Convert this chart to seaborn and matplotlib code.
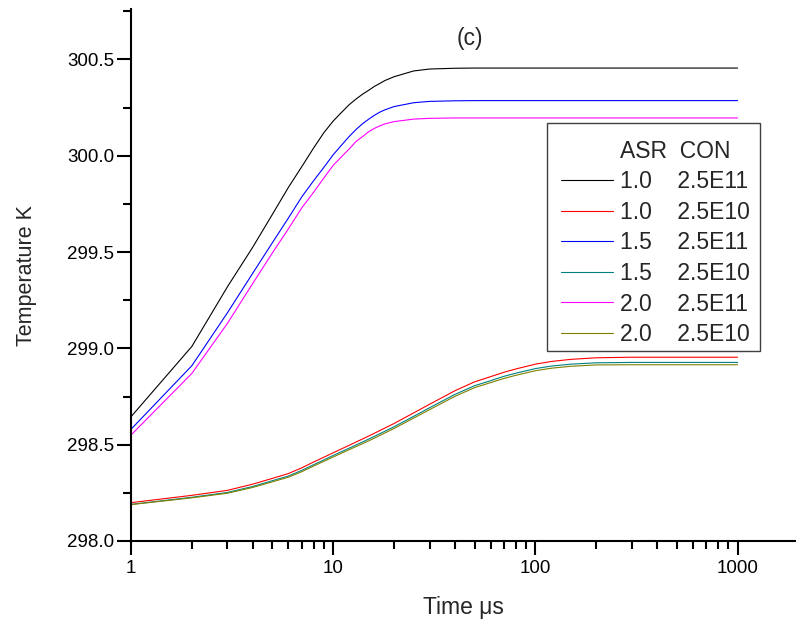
import numpy as np
import pandas as pd
import matplotlib
matplotlib.use("Agg")
import matplotlib.pyplot as plt
import seaborn as sns
from matplotlib.lines import Line2D
from matplotlib.patches import Rectangle
from matplotlib.ticker import LogLocator, MultipleLocator, FuncFormatter, NullFormatter

# ---- data ----
# series with CON = 2.5E11 (fast rise)
time_fast = [1, 2, 3, 4, 5, 6, 7, 8, 9, 10, 11, 12, 13, 14, 15, 16, 17, 18, 20, 25, 30, 40,
             50, 100, 1000]
asr10_con11 = [298.645, 299.010, 299.320, 299.525, 299.695, 299.835, 299.944, 300.040, 300.120,
               300.180, 300.225, 300.265, 300.295, 300.320, 300.340, 300.360, 300.375, 300.390,
               300.410, 300.440, 300.450, 300.454, 300.455, 300.455, 300.455]
asr15_con11 = [298.580, 298.910, 299.185, 299.390, 299.548, 299.676, 299.787, 299.870, 299.940,
               300.005, 300.055, 300.100, 300.137, 300.167, 300.190, 300.210, 300.226, 300.238,
               300.255, 300.275, 300.282, 300.285, 300.286, 300.286, 300.286]
asr20_con11 = [298.550, 298.870, 299.130, 299.337, 299.495, 299.620, 299.730, 299.810, 299.885,
               299.950, 299.995, 300.035, 300.075, 300.100, 300.125, 300.142, 300.155, 300.165,
               300.177, 300.190, 300.194, 300.196, 300.196, 300.196, 300.196]

# series with CON = 2.5E10 (slow rise)
time_slow = [1, 2, 3, 4, 5, 6, 7, 8, 9, 10, 12, 15, 20, 25, 30, 40, 50, 60, 70, 80, 100, 120,
             150, 200, 300, 500, 1000]
asr10_con10 = [298.199, 298.237, 298.263, 298.295, 298.325, 298.350, 298.380, 298.410, 298.435,
               298.458, 298.497, 298.545, 298.610, 298.665, 298.710, 298.780, 298.826, 298.853,
               298.876, 298.893, 298.918, 298.932, 298.943, 298.951, 298.954, 298.954, 298.954]
asr15_con10 = [298.190, 298.227, 298.252, 298.283, 298.313, 298.337, 298.367, 298.396, 298.421,
               298.444, 298.482, 298.529, 298.593, 298.647, 298.692, 298.761, 298.806, 298.832,
               298.855, 298.871, 298.895, 298.908, 298.918, 298.925, 298.927, 298.927, 298.927]
asr20_con10 = [298.189, 298.224, 298.248, 298.278, 298.307, 298.331, 298.360, 298.389, 298.414,
               298.436, 298.474, 298.520, 298.584, 298.638, 298.682, 298.751, 298.796, 298.822,
               298.844, 298.860, 298.884, 298.897, 298.907, 298.914, 298.915, 298.915, 298.915]

series_names = ["1.0    2.5E11", "1.0    2.5E10", "1.5    2.5E11",
                "1.5    2.5E10", "2.0    2.5E11", "2.0    2.5E10"]
series_values = [asr10_con11, asr10_con10, asr15_con11, asr15_con10, asr20_con11, asr20_con10]
series_times = [time_fast, time_slow, time_fast, time_slow, time_fast, time_slow]
series_colors = ["#000000", "#ff0000", "#0000ff", "#008080", "#ff00ff", "#808000"]
legend_header = "ASR  CON"

df = pd.concat([pd.DataFrame({"time": t, "temp": v, "series": n})
                for n, t, v in zip(series_names, series_times, series_values)],
               ignore_index=True)

# ---- style ----
sns.set_style("ticks")
plt.rcParams["font.family"] = ["Liberation Sans", "DejaVu Sans"]

W, H = 796, 627
fig = plt.figure(figsize=(W / 100, H / 100), dpi=100)
ax = fig.add_axes([131 / W, 86 / H, 665 / W, 531.7 / H])

sns.lineplot(data=df, x="time", y="temp", hue="series", hue_order=series_names,
             palette=dict(zip(series_names, series_colors)), linewidth=0.8,
             legend=False, ax=ax, sort=False)

ax.set_xscale("log")
ax.set_xlim(1, 1945)
ax.set_ylim(298.0, 300.76)

ax.xaxis.set_major_locator(LogLocator(base=10, numticks=10))
ax.xaxis.set_minor_locator(LogLocator(base=10, subs=np.arange(2, 10), numticks=50))
ax.xaxis.set_major_formatter(FuncFormatter(lambda v, p: f"{v:g}"))
ax.xaxis.set_minor_formatter(NullFormatter())
ax.yaxis.set_major_locator(MultipleLocator(0.5))
ax.yaxis.set_minor_locator(MultipleLocator(0.25))
ax.yaxis.set_major_formatter(FuncFormatter(lambda v, p: f"{v:.1f}"))

for s in ["top", "right"]:
    ax.spines[s].set_visible(False)
for s in ["left", "bottom"]:
    ax.spines[s].set_linewidth(1.5)
    ax.spines[s].set_color("black")

ax.tick_params(which="major", direction="out", length=10, width=1.5, labelsize=13.5,
               colors="black")
ax.tick_params(which="minor", direction="out", length=5.5, width=1.5, colors="black")
ax.tick_params(axis="y", which="major", pad=2)
ax.tick_params(axis="x", which="major", pad=4)

ax.set_xlabel("Time μs", fontsize=16.5, labelpad=13.5)
ax.set_ylabel("Temperature K", fontsize=15.5, labelpad=22)

fig.text(470 / W, 1 - 38 / H, "(c)", ha="center", va="center", fontsize=16.5)

# legend frame (opaque box) and legend entries
ax.add_patch(Rectangle((547 / W, 1 - 351 / H), 213 / W, 228 / H, transform=fig.transFigure,
                       facecolor="white", edgecolor="#404040", linewidth=1.0,
                       clip_on=False, zorder=4))
handles = [Line2D([], [], color="none")] + [
    Line2D([], [], color=c, linewidth=0.8) for c in series_colors]
labels = [legend_header] + series_names
leg = ax.legend(handles, labels, loc="upper left",
                bbox_to_anchor=(560.7 / W, 1 - 139.7 / H), bbox_transform=fig.transFigure,
                borderaxespad=0, borderpad=0, fontsize=16.5, handlelength=2.3,
                handletextpad=0.29, labelspacing=0.33, frameon=False)
leg.set_zorder(5)

fig.savefig("out.png", dpi=100)
